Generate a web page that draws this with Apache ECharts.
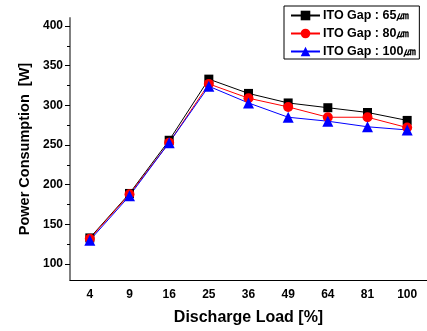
<!DOCTYPE html>
<html>
<head>
<meta charset="utf-8">
<script src="https://cdn.jsdelivr.net/npm/echarts@6/dist/echarts.min.js"></script>
<style>
	html, body { margin: 0; padding: 0; background: #fff; }
	#chart { width: 427px; height: 331px; }
</style>
</head>
<body>
<div id="chart"></div>
<script>
// discharge load categories (%)
const loads = ['4', '9', '16', '25', '36', '49', '64', '81', '100'];

// power consumption (W) per ITO gap
const gap65 = [133, 189, 256, 333, 315, 303, 297, 291, 281];
const gap80 = [132, 188, 253, 327, 309, 298, 285, 285, 272];
const gap100 = [130, 186, 253, 324, 303, 285, 280, 273, 269];

// y axis ticks
const yMajorTicks = [100, 150, 200, 250, 300, 350, 400];
const yMinorTicks = [125, 175, 225, 275, 325, 375];

const seriesNames = ['ITO Gap : 65㎛', 'ITO Gap : 80㎛', 'ITO Gap : 100㎛'];

const font = 'Arial, "Liberation Sans", sans-serif';

const chart = echarts.init(document.getElementById('chart'));

const line = (name, data, color, symbol, size) => ({
	name,
	type: 'line',
	data,
	symbol,
	symbolSize: size,
	showSymbol: true,
	lineStyle: { color, width: 1 },
	itemStyle: { color, borderWidth: 0 },
	emphasis: { disabled: true },
	animation: false,
});

chart.setOption({
	animation: false,
	backgroundColor: '#fff',
	grid: { left: 70, right: 0, top: 18, bottom: 49 },
	legend: {
		orient: 'vertical',
		left: 284,
		top: 6,
		padding: [3, 3, 1, 6],
		itemGap: 5,
		itemWidth: 29,
		itemHeight: 12,
		borderColor: '#000',
		borderWidth: 1,
		textStyle: { fontFamily: font, fontWeight: 'bold', fontSize: 12.5, color: '#000', padding: [0, 0, 0, -2] },
		data: seriesNames,
	},
	xAxis: [
		{
			type: 'category',
			data: loads,
			boundaryGap: true,
			position: 'bottom',
			name: 'Discharge Load [%]',
			nameLocation: 'middle',
			nameGap: 30,
			nameTextStyle: { fontFamily: font, fontWeight: 'bold', fontSize: 16, color: '#000' },
			axisLine: { lineStyle: { color: '#000', width: 1 } },
			axisTick: { alignWithLabel: true, length: 4, lineStyle: { color: '#000' } },
			axisLabel: { fontFamily: font, fontWeight: 'bold', fontSize: 12, color: '#000', margin: 9 },
			splitLine: { show: false },
		},
		{
			type: 'category',
			data: loads,
			boundaryGap: true,
			position: 'bottom',
			offset: 0,
			axisLine: { show: false },
			axisTick: { length: 2, lineStyle: { color: '#000' } },
			axisLabel: { show: false },
			splitLine: { show: false },
		},
	],
	yAxis: [
		{
			type: 'value',
			min: 80,
			max: 410,
			name: 'Power Consumption  [W]',
			nameLocation: 'middle',
			nameGap: 35,
			nameTextStyle: { fontFamily: font, fontWeight: 'bold', fontSize: 14.5, color: '#000' },
			axisLine: { show: true, lineStyle: { color: '#808080', width: 2 } },
			axisTick: { show: true, length: 5, customValues: yMajorTicks, lineStyle: { color: '#000' } },
			axisLabel: { fontFamily: font, fontWeight: 'bold', fontSize: 12, color: '#000', margin: 7, customValues: yMajorTicks },
			splitLine: { show: false },
		},
		{
			type: 'value',
			min: 80,
			max: 410,
			position: 'left',
			offset: 0,
			axisLine: { show: false },
			axisTick: { show: true, length: 3, customValues: yMinorTicks, lineStyle: { color: '#000' } },
			axisLabel: { show: false },
			splitLine: { show: false },
		},
	],
	series: [
		line(seriesNames[0], gap65, '#000000', 'rect', 9),
		line(seriesNames[1], gap80, '#ff0000', 'circle', 10),
		line(seriesNames[2], gap100, '#0000ff', 'triangle', 11),
	],
});
</script>
</body>
</html>
